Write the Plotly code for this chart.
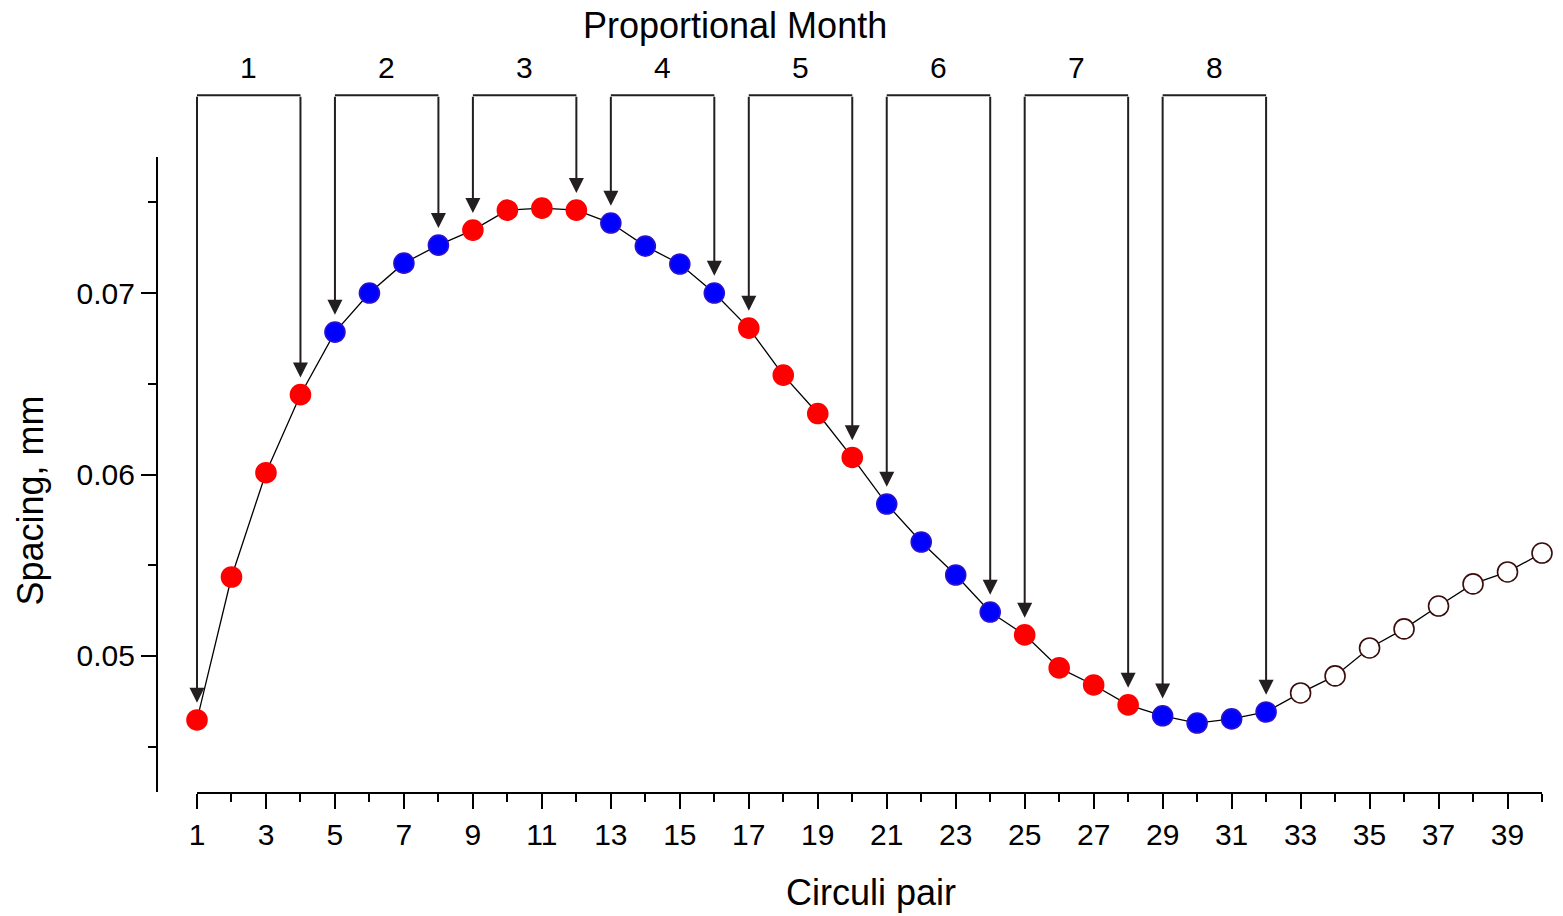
import plotly.graph_objects as go

# Circuli pair index and measured spacing (mm)
circuli_pair = list(range(1, 41))
spacing_mm = [
    0.04647, 0.05435, 0.06010, 0.06440, 0.06785, 0.07000, 0.07165, 0.07264,
    0.07347, 0.07457, 0.07468, 0.07457, 0.07386, 0.07259, 0.07160, 0.07000,
    0.06807, 0.06548, 0.06336, 0.06094, 0.05837, 0.05628, 0.05446, 0.05242,
    0.05116, 0.04934, 0.04840, 0.04730, 0.04670, 0.04630, 0.04653, 0.04691,
    0.04796, 0.04890, 0.05044, 0.05149, 0.05275, 0.05397, 0.05463, 0.05567,
]
# Proportional month each pair belongs to (0 = beyond the last month)
month_of_pair = [m for m in range(1, 9) for _ in range(4)] + [0] * 8
month_labels = ["1", "2", "3", "4", "5", "6", "7", "8"]

x_tick_vals = list(range(1, 40, 2))
x_tick_text = [str(v) for v in x_tick_vals]
x_minor_vals = list(range(2, 41, 2))
y_tick_vals = [0.05, 0.06, 0.07]
y_tick_text = ["0.05", "0.06", "0.07"]
y_minor_vals = [0.045, 0.055, 0.065, 0.075]

Y_MIN, Y_MAX = 0.0425, 0.0775
BRACKET_TOP = 0.0809      # height of the month brackets, in axis units
ARROW_GAP = 0.00095       # space between an arrow tip and its point

FONT = "Liberation Sans, Arial, sans-serif"
INK = "#231f20"

fill_colors, edge_colors = [], []
for m in month_of_pair:
    if m == 0:
        fill_colors.append("#ffffff")
        edge_colors.append("#3a0c0c")
    elif m % 2 == 1:
        fill_colors.append("#ff0000")
        edge_colors.append("#ff0000")
    else:
        fill_colors.append("#0000ff")
        edge_colors.append("#2a10d0")

fig = go.Figure()
fig.add_trace(go.Scatter(
    x=circuli_pair, y=spacing_mm, mode="lines+markers",
    line=dict(color="#000000", width=1.3),
    marker=dict(size=20, color=fill_colors,
                line=dict(color=edge_colors, width=1.6)),
    cliponaxis=False, showlegend=False, hoverinfo="x+y",
))

def to_paper(v):
    return (v - Y_MIN) / (Y_MAX - Y_MIN)

shapes, annotations = [], []
for k, label in enumerate(month_labels, start=1):
    first = circuli_pair[month_of_pair.index(k)]
    last = first + month_of_pair.count(k) - 1
    # horizontal top of the bracket
    shapes.append(dict(type="line", xref="x", yref="paper",
                       x0=first, x1=last,
                       y0=to_paper(BRACKET_TOP), y1=to_paper(BRACKET_TOP),
                       line=dict(color=INK, width=2)))
    # arrows down to the first and last pair of the month
    for p in (first, last):
        yv = spacing_mm[circuli_pair.index(p)]
        annotations.append(dict(
            x=p, y=yv + ARROW_GAP, xref="x", yref="y",
            ax=p, ay=BRACKET_TOP, axref="x", ayref="y",
            text="", showarrow=True, arrowhead=2, arrowsize=1.5,
            arrowwidth=2, arrowcolor=INK, standoff=0, startstandoff=0))
    annotations.append(dict(
        x=(first + last) / 2, y=1.141, xref="x", yref="paper",
        text=label, showarrow=False, xanchor="center", yanchor="middle",
        font=dict(family=FONT, size=30, color="#000000")))

annotations.append(dict(
    x=0.417, y=1.207, xref="paper", yref="paper", text="Proportional Month",
    showarrow=False, xanchor="center", yanchor="middle",
    font=dict(family=FONT, size=36, color="#000000")))
annotations.append(dict(
    x=0.5155, y=-0.159, xref="paper", yref="paper", text="Circuli pair",
    showarrow=False, xanchor="center", yanchor="middle",
    font=dict(family=FONT, size=36, color="#000000")))
annotations.append(dict(
    x=-0.091, y=0.459, xref="paper", yref="paper", text="Spacing, mm",
    textangle=-90, showarrow=False, xanchor="center", yanchor="middle",
    font=dict(family=FONT, size=36, color="#000000")))

fig.update_layout(
    width=1563, height=916,
    margin=dict(l=157, r=21, t=157, b=124),
    paper_bgcolor="white", plot_bgcolor="white",
    font=dict(family=FONT, size=30, color="#000000"),
    shapes=shapes, annotations=annotations,
    xaxis=dict(
        domain=[40 / 1385, 1], range=[1, 40],
        tickmode="array", tickvals=x_tick_vals, ticktext=x_tick_text,
        ticks="outside", ticklen=15, tickwidth=2, tickcolor="#000000",
        minor=dict(tickmode="array", tickvals=x_minor_vals, ticks="outside",
                   ticklen=8, tickwidth=2, tickcolor="#000000", showgrid=False),
        showline=True, linewidth=2.3, linecolor="#000000",
        showgrid=False, zeroline=False,
        tickfont=dict(family=FONT, size=30, color="#000000"),
    ),
    yaxis=dict(
        anchor="free", position=0, range=[Y_MIN, Y_MAX],
        tickmode="array", tickvals=y_tick_vals, ticktext=y_tick_text,
        ticks="outside", ticklen=15, tickwidth=2, tickcolor="#000000",
        minor=dict(tickmode="array", tickvals=y_minor_vals, ticks="outside",
                   ticklen=8, tickwidth=2, tickcolor="#000000", showgrid=False),
        showline=True, linewidth=2.3, linecolor="#000000",
        showgrid=False, zeroline=False,
        tickfont=dict(family=FONT, size=30, color="#000000"),
    ),
)

fig.write_html("out.html")
